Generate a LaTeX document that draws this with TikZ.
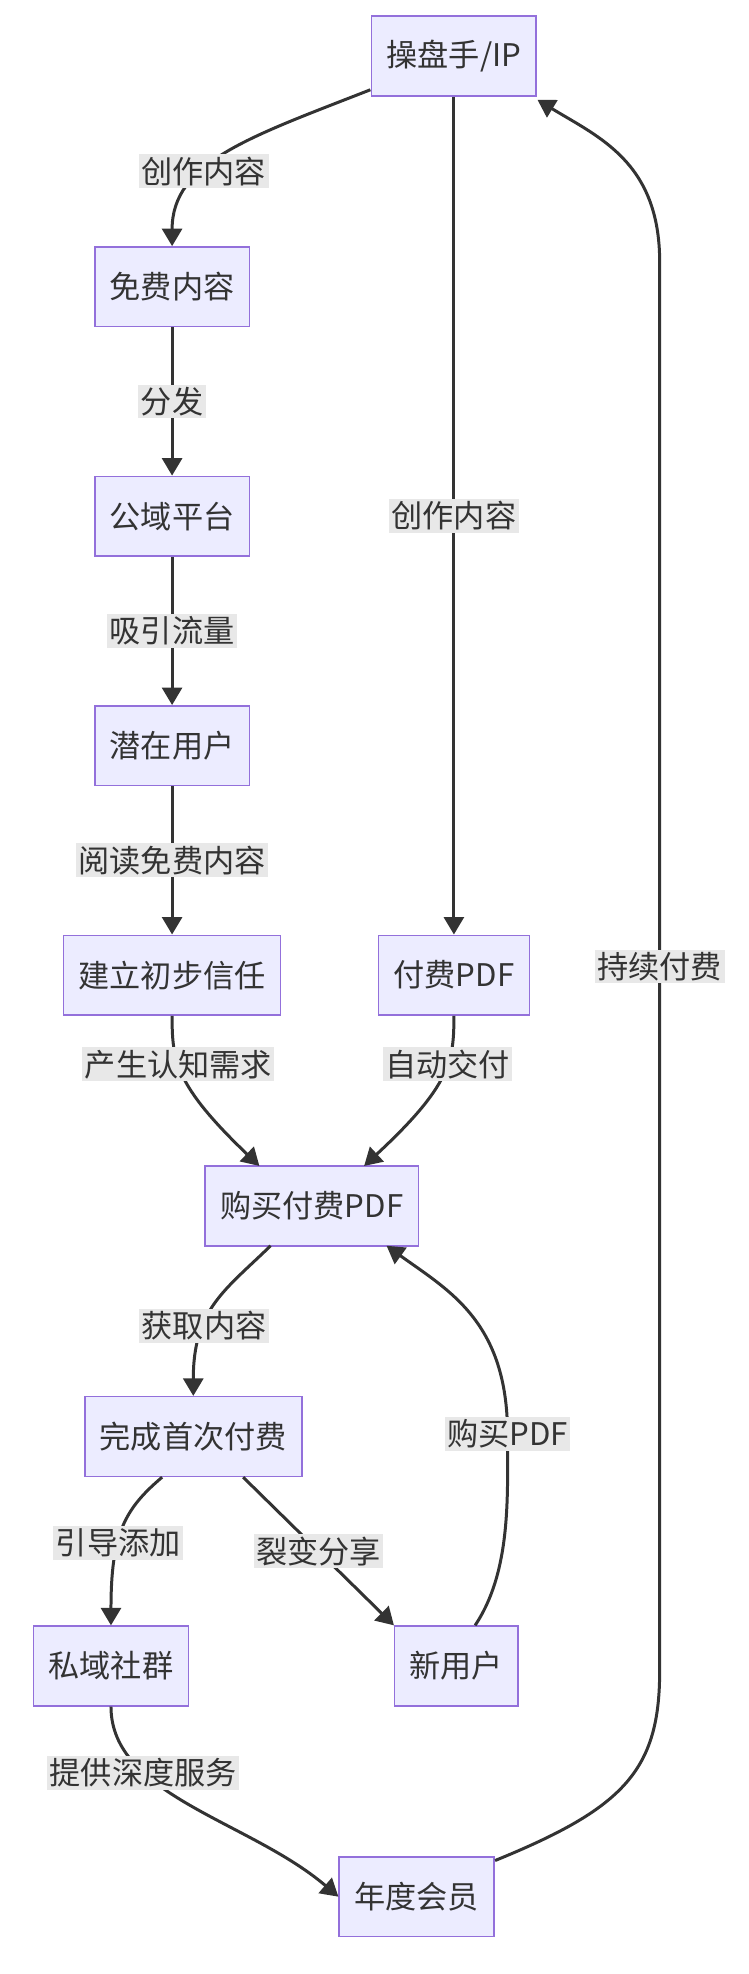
\documentclass[tikz,border=0pt]{standalone}
\usepackage{fontspec}
\setmainfont{Noto Sans CJK SC}
\usetikzlibrary{arrows.meta}
\definecolor{boxfill}{HTML}{ECECFF}
\definecolor{boxline}{HTML}{9370DB}
\definecolor{edgeline}{HTML}{333333}
\definecolor{lblfill}{HTML}{E8E8E8}
\begin{document}
\begin{tikzpicture}[x=0.5pt,y=-0.5pt,
  every node/.style = {font=\fontsize{12.5}{14}\selectfont, text=edgeline},
  Box/.style = {draw=boxline, fill=boxfill, line width=0.6pt,
                minimum height=32pt, inner xsep=6pt},
  EdgeStyle/.style = {draw=edgeline, line width=1.2pt, -{Triangle[length=7pt,width=8pt]}},
  LabelStyle/.style = {fill=lblfill, inner sep=1pt}]
  \useasboundingbox (0,0) rectangle (600,1583);

  \node[Box] (ip)    at (364,45)   {操盘手/IP};
  \node[Box] (free)  at (138,230)  {免费内容};
  \node[Box] (pub)   at (138,414)  {公域平台};
  \node[Box] (user)  at (138,598)  {潜在用户};
  \node[Box] (trust) at (138,782)  {建立初步信任};
  \node[Box] (pdf)   at (364,782)  {付费PDF};
  \node[Box] (buy)   at (250,967)  {购买付费PDF};
  \node[Box] (first) at (155,1152) {完成首次付费};
  \node[Box] (priv)  at (89,1336)  {私域社群};
  \node[Box] (new)   at (366,1336) {新用户};
  \node[Box] (vip)   at (334,1521) {年度会员};

  \coordinate (ipout) at (297,72);
  \coordinate (ipin)  at (431,80);
  \coordinate (vipout) at (397,1492);
  \coordinate (buyin) at (310,999);
  \coordinate (buyl) at (208,935);
  \coordinate (buyr) at (292,935);
  \coordinate (buyout) at (217,999);

  \draw[EdgeStyle] (ipout) .. controls (200,110) and (138,130) .. node[LabelStyle, pos=0.62]{创作内容} (free.north);
  \draw[EdgeStyle] (free) -- node[LabelStyle]{分发} (pub);
  \draw[EdgeStyle] (pub) -- node[LabelStyle]{吸引流量} (user);
  \draw[EdgeStyle] (user) -- node[LabelStyle]{阅读免费内容} (trust);
  \draw[EdgeStyle] (ip.south) -- node[LabelStyle]{创作内容} (pdf.north);
  \draw[EdgeStyle] (trust.south) .. controls (138,850) and (140,870) .. node[LabelStyle, pos=0.4]{产生认知需求} (buyl);
  \draw[EdgeStyle] (pdf.south) .. controls (364,850) and (362,870) .. node[LabelStyle, pos=0.4]{自动交付} (buyr);
  \draw[EdgeStyle] (buyout) .. controls (180,1035) and (155,1050) .. node[LabelStyle, pos=0.65]{获取内容} (first.north);
  \draw[EdgeStyle] (first.south) ++(-25,0) .. controls (100,1210) and (89,1230) .. node[LabelStyle, pos=0.6]{引导添加} (priv.north);
  \draw[EdgeStyle] (first.south) ++(40,0) -- node[LabelStyle]{裂变分享} (new.north west);
  \draw[EdgeStyle] (new.north) ++(15,0) .. controls (410,1260) and (407,1200) .. (407,1150) node[LabelStyle]{购买PDF} .. controls (407,1060) and (360,1035) .. (buyin);
  \draw[EdgeStyle] (priv.south) .. controls (89,1440) and (200,1460) .. node[LabelStyle, pos=0.3]{提供深度服务} (vip.west);
  \draw[EdgeStyle] (vipout) .. controls (500,1450) and (529,1420) .. (529,1340) -- node[LabelStyle]{持续付费} (529,210) .. controls (529,130) and (480,110) .. (ipin);
\end{tikzpicture}
\end{document}
